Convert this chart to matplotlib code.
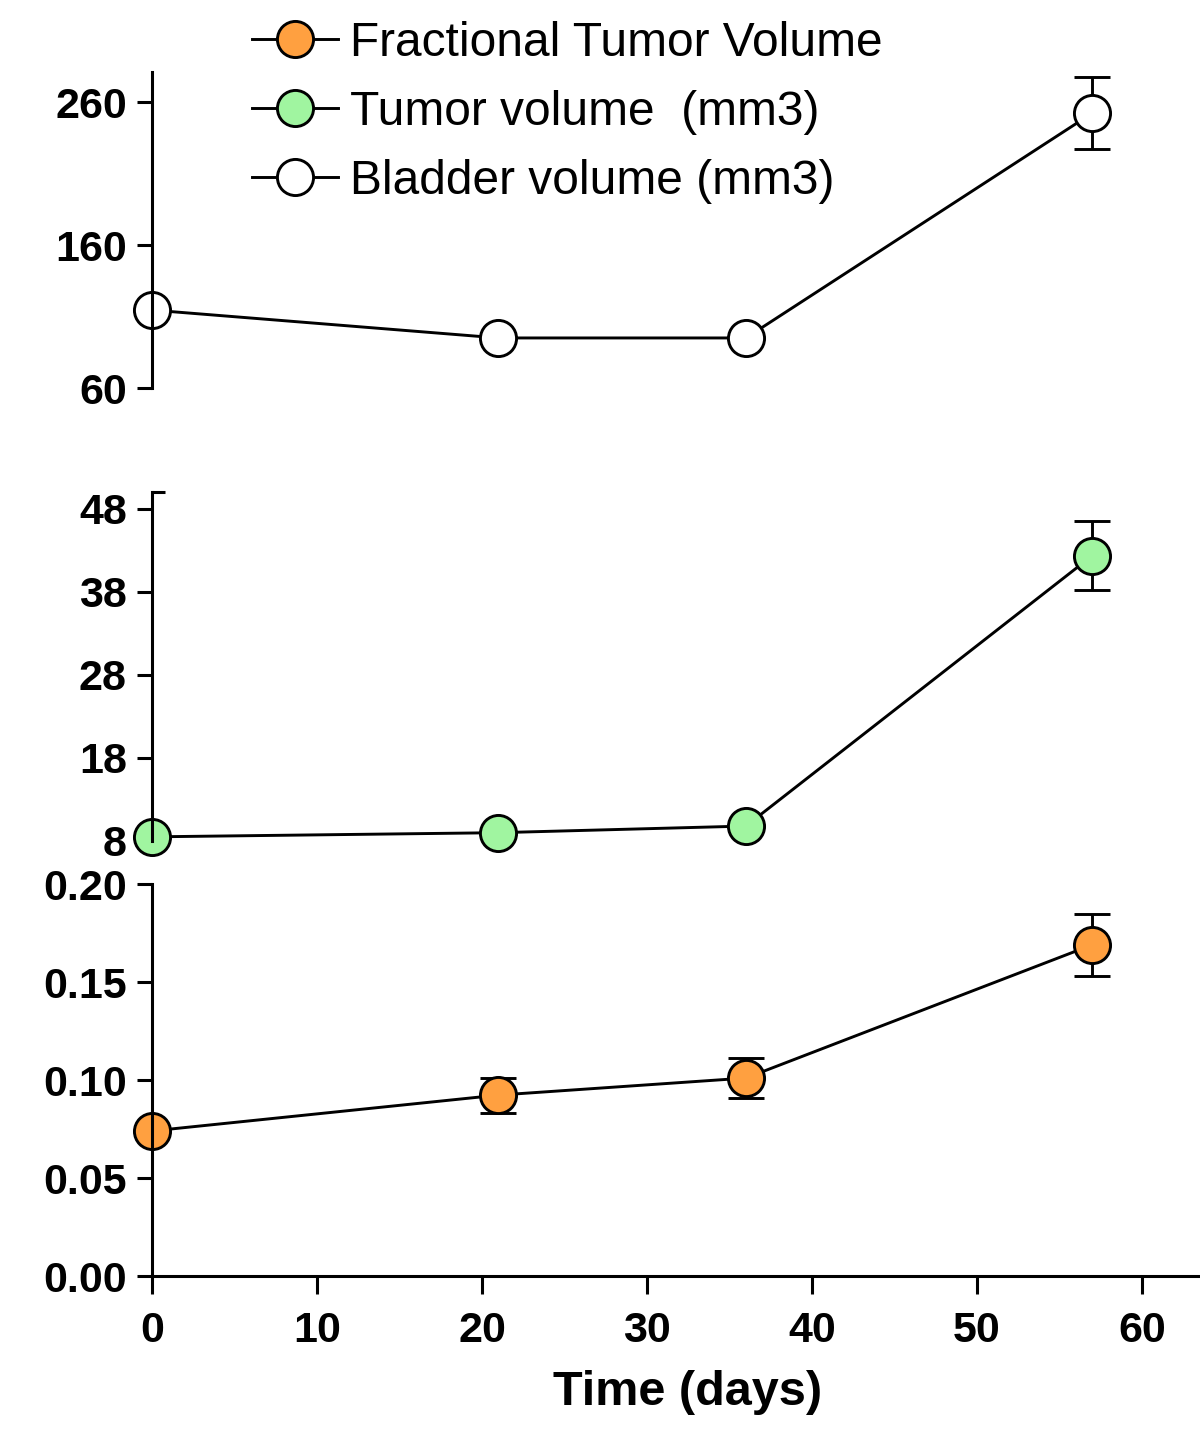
import matplotlib
matplotlib.use("Agg")
import matplotlib.pyplot as plt
from matplotlib.lines import Line2D

plt.rcParams['font.family'] = ['Liberation Sans', 'DejaVu Sans']

# ---- data ----
days = [0, 21, 36, 57]

bladder = [114.5, 95, 95, 252.3]
bladder_err = [0, 0, 0, 25.2]

tumor = [8.5, 9.0, 9.8, 42.35]
tumor_err = [0, 0, 0, 4.15]

fraction = [0.074, 0.0923, 0.101, 0.169]
fraction_err = [0, 0.0089, 0.0100, 0.0158]

top_ticks = [60, 160, 260]
mid_ticks = [8, 18, 28, 38, 48]
bot_ticks = [0.00, 0.05, 0.10, 0.15, 0.20]
bot_tick_labels = ["0.00", "0.05", "0.10", "0.15", "0.20"]
x_ticks = [0, 10, 20, 30, 40, 50, 60]

labels = ["Fractional Tumor Volume", "Tumor volume  (mm3)", "Bladder volume (mm3)"]
colors = ["#FFA040", "#A0F5A0", "#FFFFFF"]

W, H = 1200, 1431
fig = plt.figure(figsize=(W / 100, H / 100), dpi=100)

def pos(y_top_px, y_bot_px):
    left = 152 / W
    width = (1198 - 152) / W
    bottom = 1 - y_bot_px / H
    height = (y_bot_px - y_top_px) / H
    return [left, bottom, width, height]

ax_top = fig.add_axes(pos(72, 388))
ax_mid = fig.add_axes(pos(492, 841))
ax_bot = fig.add_axes(pos(884, 1276))

LW = 2.1
MS = 26
MEW = 2.1
tick_font = dict(fontsize=31, fontweight='bold')

def draw(ax, y, err, color):
    ax.errorbar(days, y, yerr=err, color='black', lw=LW, marker='o', ms=MS,
                mfc=color, mec='black', mew=MEW, capsize=13, capthick=LW,
                elinewidth=LW, clip_on=False)

draw(ax_top, bladder, bladder_err, colors[2])
draw(ax_mid, tumor, tumor_err, colors[1])
draw(ax_bot, fraction, fraction_err, colors[0])

for ax in (ax_top, ax_mid, ax_bot):
    ax.set_xlim(0, 63.4)
    for s in ('top', 'right'):
        ax.spines[s].set_visible(False)
    ax.spines['left'].set_linewidth(2.2)
    ax.tick_params(axis='y', which='major', direction='out', length=11, width=2.2, pad=7)
    ax.tick_params(axis='y', which='minor', direction='in', length=9, width=2.2)
    ax.patch.set_alpha(0)

for ax in (ax_top, ax_mid):
    ax.spines['bottom'].set_visible(False)
    ax.set_xticks([])

ax_top.set_ylim(60, 281)
ax_top.set_yticks(top_ticks)
ax_top.set_yticklabels([str(t) for t in top_ticks], **tick_font)
ax_top.set_yticks([60], minor=True)

ax_mid.set_ylim(8, 50)
ax_mid.set_yticks(mid_ticks)
ax_mid.set_yticklabels([str(t) for t in mid_ticks], **tick_font)
ax_mid.set_yticks([8, 50], minor=True)

ax_bot.set_ylim(0, 0.20)
ax_bot.set_yticks(bot_ticks)
ax_bot.set_yticklabels(bot_tick_labels, **tick_font)
ax_bot.set_yticks([0.20], minor=True)
ax_bot.spines['bottom'].set_linewidth(2.2)
ax_bot.set_xticks(x_ticks)
ax_bot.set_xticklabels([str(t) for t in x_ticks], **tick_font)
ax_bot.tick_params(axis='x', direction='out', length=13, width=2.2, pad=12)
ax_bot.set_xlabel("Time (days)", fontsize=35, fontweight='bold', labelpad=14)
ax_bot.xaxis.label.set_x((688 - 152) / (1198 - 152))

handles = [Line2D([0], [0], color='black', lw=LW, marker='o', ms=MS,
                  mfc=c, mec='black', mew=MEW) for c in colors]
fig.legend(handles, labels, loc='upper left', bbox_to_anchor=(252 / W, 1 - 21 / H),
           frameon=False, fontsize=34.5, handlelength=1.8, handletextpad=0.25,
           labelspacing=0.5, borderaxespad=0, borderpad=0)

fig.savefig("out.png", dpi=100)
